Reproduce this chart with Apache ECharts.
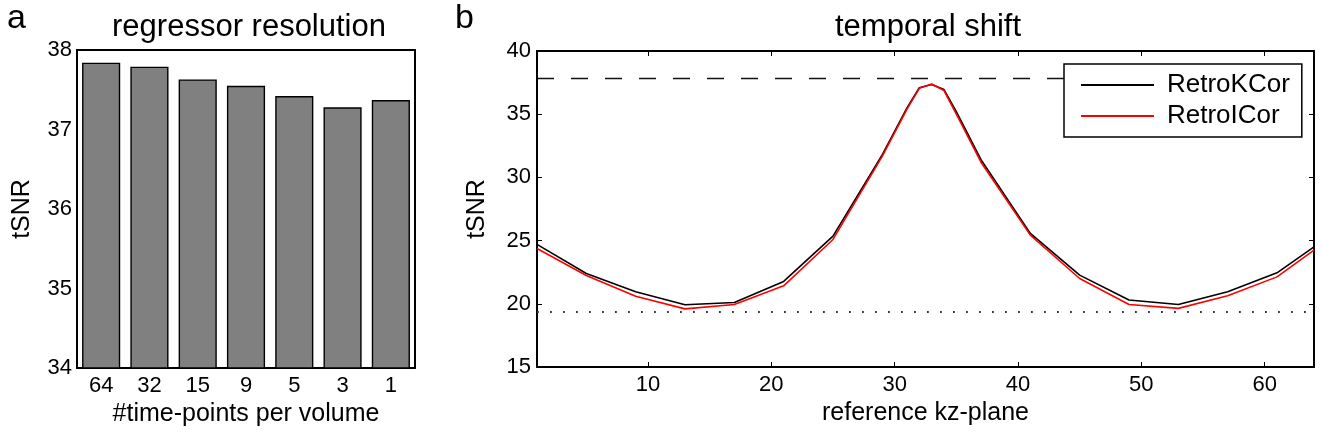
<!DOCTYPE html>
<html>
<head>
<meta charset="utf-8">
<title>tSNR</title>
<script src="https://cdn.jsdelivr.net/npm/echarts@6/dist/echarts.min.js"></script>
<style>
    html, body { margin: 0; padding: 0; background: #fff; }
    #main { width: 1322px; height: 441px; }
</style>
</head>
<body>
<div id="main"></div>
<script>
    // panel a: regressor resolution
    var timePoints = ['64', '32', '15', '9', '5', '3', '1'];
    var barTSNR = [37.84, 37.79, 37.63, 37.55, 37.42, 37.28, 37.37];

    // panel b: temporal shift
    var kzPlanes = [1, 5, 9, 13, 17, 21, 25, 29, 31, 32, 33, 34, 35, 37, 41, 45, 49, 53, 57, 61, 64];
    var retroKCor = [24.7, 22.4, 20.95, 19.92, 20.1, 21.77, 25.35, 31.8, 35.5, 37.1, 37.35, 36.95, 35.2, 31.4, 25.57, 22.27, 20.3, 19.95, 20.95, 22.45, 24.5];
    var retroICor = [24.38, 22.24, 20.6, 19.6, 19.95, 21.42, 25.09, 31.68, 35.4, 37.05, 37.39, 36.87, 35.0, 31.2, 25.43, 22.0, 19.95, 19.64, 20.63, 22.13, 24.25];
    var kzTicks = [10, 20, 30, 40, 50, 60];
    var bestLevel = 37.84;   // dashed line
    var floorLevel = 19.35;  // dotted line

    var font = 'Liberation Sans, Arial, Helvetica, sans-serif';
    var axisLine = { show: true, lineStyle: { color: '#000', width: 2 } };
    var tick = { inside: true, length: 5, lineStyle: { color: '#000' } };

    function pairs(xs, ys) {
        return xs.map(function (x, i) { return [x, ys[i]]; });
    }

    var chart = echarts.init(document.getElementById('main'));
    chart.setOption({
        animation: false,
        backgroundColor: '#fff',
        textStyle: { fontFamily: font },
        title: [{
            text: 'regressor resolution',
            left: 244, top: 7, textAlign: 'center',
            textStyle: { fontSize: 31, fontWeight: 'normal', color: '#000', fontFamily: font }
        }, {
            text: 'temporal shift',
            left: 923, top: 7, textAlign: 'center',
            textStyle: { fontSize: 31, fontWeight: 'normal', color: '#000', fontFamily: font }
        }],
        graphic: [
            { type: 'text', left: 7, top: 2, style: { text: 'a', fontSize: 34, fontFamily: font, fill: '#000' } },
            { type: 'text', left: 455, top: 2, style: { text: 'b', fontSize: 34, fontFamily: font, fill: '#000' } }
        ],
        legend: {
            data: ['RetroKCor', 'RetroICor'],
            orient: 'vertical',
            left: 1064, top: 64,
            zlevel: 1,
            padding: [8, 12, 8, 17],
            itemWidth: 73, itemHeight: 2, itemGap: 5,
            icon: 'rect',
            borderColor: '#000', borderWidth: 1.5,
            backgroundColor: '#fff',
            textStyle: { fontSize: 26, color: '#000', fontFamily: font, lineHeight: 26, padding: [0, 0, 0, 8] }
        },
        grid: [
            { left: 77, top: 50, width: 338, height: 318 },
            { left: 537, top: 51, width: 777, height: 316 }
        ],
        xAxis: [{
            type: 'category', gridIndex: 0, data: timePoints,
            name: '#time-points per volume', nameLocation: 'middle', nameGap: 32,
            nameTextStyle: { fontSize: 25, color: '#000' },
            axisLine: axisLine,
            axisTick: { inside: true, alignWithLabel: true, length: 5, lineStyle: { color: '#000' } },
            axisLabel: { fontSize: 22, color: '#000', margin: 7 }
        }, {
            type: 'category', gridIndex: 0, data: timePoints, position: 'top',
            axisLine: axisLine,
            axisTick: { inside: true, alignWithLabel: true, length: 5, lineStyle: { color: '#000' } },
            axisLabel: { show: false }
        }, {
            type: 'value', gridIndex: 1, min: 1, max: 64,
            name: 'reference kz-plane', nameLocation: 'middle', nameGap: 33,
            nameTextStyle: { fontSize: 25, color: '#000' },
            axisLine: axisLine,
            axisTick: { inside: true, length: 5, customValues: kzTicks, lineStyle: { color: '#000' } },
            axisLabel: { fontSize: 22, color: '#000', margin: 7, customValues: kzTicks },
            splitLine: { show: false }
        }, {
            type: 'value', gridIndex: 1, min: 1, max: 64, position: 'top',
            axisLine: axisLine,
            axisTick: { inside: true, length: 5, customValues: kzTicks, lineStyle: { color: '#000' } },
            axisLabel: { show: false },
            splitLine: { show: false }
        }],
        yAxis: [{
            type: 'value', gridIndex: 0, min: 34, max: 38, interval: 0.5,
            name: 'tSNR', nameLocation: 'middle', nameGap: 42,
            nameTextStyle: { fontSize: 25, color: '#000' },
            axisLine: axisLine,
            axisTick: tick,
            axisLabel: {
                fontSize: 22, color: '#000', margin: 5,
                formatter: function (v) { return v % 1 === 0 ? String(v) : ''; }
            },
            splitLine: { show: false }
        }, {
            type: 'value', gridIndex: 0, min: 34, max: 38, interval: 0.5, position: 'right',
            axisLine: axisLine,
            axisTick: tick,
            axisLabel: { show: false },
            splitLine: { show: false }
        }, {
            type: 'value', gridIndex: 1, min: 15, max: 40, interval: 5,
            name: 'tSNR', nameLocation: 'middle', nameGap: 47,
            nameTextStyle: { fontSize: 25, color: '#000' },
            axisLine: axisLine,
            axisTick: tick,
            axisLabel: { fontSize: 22, color: '#000', margin: 6 },
            splitLine: { show: false }
        }, {
            type: 'value', gridIndex: 1, min: 15, max: 40, interval: 5, position: 'right',
            axisLine: axisLine,
            axisTick: tick,
            axisLabel: { show: false },
            splitLine: { show: false }
        }],
        series: [{
            type: 'bar', xAxisIndex: 0, yAxisIndex: 0,
            data: barTSNR,
            barWidth: '79%',
            itemStyle: { color: '#808080', borderColor: '#000', borderWidth: 1.4 }
        }, {
            name: 'RetroKCor', type: 'line', xAxisIndex: 2, yAxisIndex: 2,
            data: pairs(kzPlanes, retroKCor),
            symbol: 'none', color: '#000',
            lineStyle: { color: '#000', width: 1.6 },
            markLine: {
                silent: true, symbol: 'none', label: { show: false },
                data: [
                    { yAxis: bestLevel, lineStyle: { color: '#111', width: 1.3, type: [17, 17] } },
                    { yAxis: floorLevel, lineStyle: { color: '#333', width: 1.8, type: [1.8, 11.2] } }
                ]
            }
        }, {
            name: 'RetroICor', type: 'line', xAxisIndex: 2, yAxisIndex: 2,
            data: pairs(kzPlanes, retroICor),
            symbol: 'none', color: '#ff0000',
            lineStyle: { color: '#ff0000', width: 1.6 }
        }]
    });
</script>
</body>
</html>
